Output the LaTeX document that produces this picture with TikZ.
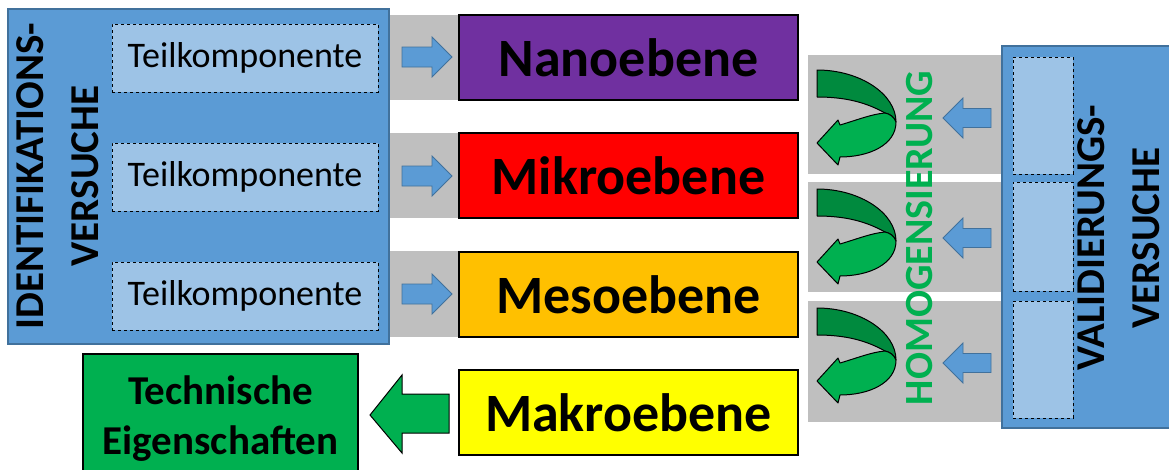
\documentclass[tikz,border=0pt]{standalone}
\usepackage{fontspec}
\setmainfont{Carlito}
\definecolor{blk}{HTML}{5B9BD5}
\definecolor{blkborder}{HTML}{41719C}
\definecolor{lightblue}{HTML}{9DC3E6}
\definecolor{greyband}{HTML}{BFBFBF}
\definecolor{nano}{HTML}{7030A0}
\definecolor{mikro}{HTML}{FF0000}
\definecolor{meso}{HTML}{FFC000}
\definecolor{makro}{HTML}{FFFF00}
\definecolor{grn}{HTML}{00B050}
\definecolor{dgrn}{HTML}{008A3E}
\begin{document}
\begin{tikzpicture}[x=1pt,y=-1pt,
  band/.style={fill=greyband,draw=none},
  bigblock/.style={fill=blk,draw=blkborder,line width=1.2pt},
  dashbox/.style={fill=lightblue,draw=black,dashed,line width=0.8pt},
  levelbox/.style={draw=black,line width=1.6pt,minimum width=339,minimum height=85,inner sep=0,
     font=\fontsize{54}{60}\selectfont\bfseries},
  teiltext/.style={inner sep=0,font=\fontsize{36}{40}\selectfont},
  arrowblue/.style={fill=blk,draw=blkborder,line width=0.8pt},
  rarrow/.pic={\draw[arrowblue] (0,-10)--(30,-10)--(30,-20)--(50,0)--(30,20)--(30,10)--(0,10)--cycle;},
  larrow/.pic={\draw[arrowblue] (0,0)--(20,-20)--(20,-9.5)--(48,-9.5)--(48,9.5)--(20,9.5)--(20,20)--cycle;},
  uturn/.pic={
    \draw[fill=dgrn,line width=1pt,line join=round] (0,0) .. controls (43,0) and (79,24) .. (79,52)
       .. controls (77,47) and (73,44) .. (68,43)
       .. controls (50,33) and (30,27) .. (0,27) -- cycle;
    \draw[fill=grn,line width=1pt,line join=round] (23,55) .. controls (40,50) and (55,44) .. (68,43)
       .. controls (73,44) and (77,47) .. (79,52)
       .. controls (79,75) and (52,87) .. (23,87) -- (21,95) -- (0,73) -- (21,50) -- cycle;}
]
\useasboundingbox (0,0) rectangle (1169,469);
% grey bands left
\path[band] (389,15) rectangle (798,100);
\path[band] (389,133) rectangle (798,218);
\path[band] (389,251) rectangle (798,337);
% grey bands right
\path[band] (808,55) rectangle (1002,174);
\path[band] (808,182) rectangle (1002,292);
\path[band] (808,301) rectangle (1002,422);
% left block
\node[bigblock,minimum width=381,minimum height=335,inner sep=0] (idblock) at (198.5,176.5) {};
\node[inner sep=0,rotate=90,align=center,font=\fontsize{41}{55}\selectfont\bfseries] (idtext) at (58,176) {IDENTIFIKATIONS-\\VERSUCHE};
\node[dashbox,minimum width=266,minimum height=68,inner sep=0] (t1) at (245,58) {};
\node[dashbox,minimum width=266,minimum height=68,inner sep=0] (t2) at (245,177) {};
\node[dashbox,minimum width=266,minimum height=68,inner sep=0] (t3) at (245,296) {};
\node[teiltext] at (t1) {Teilkomponente};
\node[teiltext] at (t2) {Teilkomponente};
\node[teiltext] at (t3) {Teilkomponente};
% level boxes
\node[levelbox,fill=nano] (nano) at (628.5,57.5) {Nanoebene};
\node[levelbox,fill=mikro] (mikro) at (628.5,175.5) {Mikroebene};
\node[levelbox,fill=meso] (meso) at (628.5,294.5) {Mesoebene};
\node[levelbox,fill=makro] (makro) at (628.5,412.5) {Makroebene};
% blue arrows left
\pic at (402,57) {rarrow};
\pic at (402,176) {rarrow};
\pic at (402,294) {rarrow};
% technische eigenschaften
\node[fill=grn,draw=black,line width=1.6pt,minimum width=275,minimum height=131,inner sep=0] (tech) at (220.5,419.5) {};
\node[inner sep=0,align=center,font=\fontsize{41}{50}\selectfont\bfseries] (techtext) at (220.5,419) {Technische\\Eigenschaften};
\draw[fill=grn,draw=black,line width=1pt] (370,415) -- (402,375) -- (402,394) -- (449,394) -- (449,433) -- (402,433) -- (402,453) -- cycle;
% right block
\node[bigblock,minimum width=180,minimum height=382,inner sep=0] (valblock) at (1092,237) {};
\node[dashbox,minimum width=60,minimum height=117,inner sep=0] (v1) at (1043,115.5) {};
\node[dashbox,minimum width=60,minimum height=109,inner sep=0] (v2) at (1043,236.5) {};
\node[dashbox,minimum width=60,minimum height=117,inner sep=0] (v3) at (1043,359.5) {};
\node[inner sep=0,rotate=90,align=center,font=\fontsize{41}{55}\selectfont\bfseries] (valtext) at (1119,238) {VALIDIERUNGS-\\VERSUCHE};
% homogenisierung
\node[inner sep=0,rotate=90,text=grn,font=\fontsize{40}{48}\selectfont\bfseries] (homtext) at (920,238) {HOMOGENSIERUNG};
% blue arrows right
\pic at (943,118) {larrow};
\pic at (943,238) {larrow};
\pic at (943,363) {larrow};
% curved arrows
\pic at (817,70) {uturn};
\pic at (817,189) {uturn};
\pic at (817,308) {uturn};
\end{tikzpicture}
\end{document}
